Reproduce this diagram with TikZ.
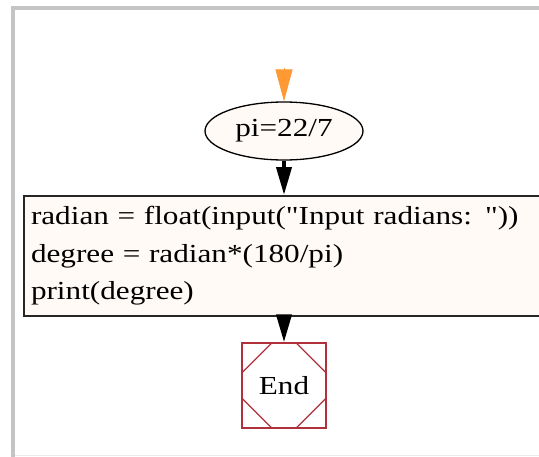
\documentclass[tikz,border=0pt]{standalone}
\usepackage{fontspec}
\newfontfamily\gvfont[FakeStretch=1.2]{Liberation Serif}
\usetikzlibrary{shapes.geometric,arrows.meta,calc}
\definecolor{nodefill}{RGB}{255,250,245}
\definecolor{endred}{RGB}{176,48,60}
\definecolor{gvorange}{RGB}{255,153,51}
\definecolor{framegray}{RGB}{196,196,196}
\tikzset{
  gvtext/.style={font=\gvfont\fontsize{26}{37.5}\selectfont},
  flowarrow/.style={black, line width=4pt, -{Triangle[length=28pt,width=15pt]}},
  startarrow/.style={gvorange, line width=1pt, -{Triangle[length=32pt,width=17pt]}},
  ellnode/.style={ellipse, draw=black, line width=1.3pt, fill=nodefill, minimum width=158pt, minimum height=58pt, inner sep=0pt, gvtext},
  codebox/.style={rectangle, draw=black!85, line width=2pt, fill=nodefill, minimum height=120pt, text width=526pt, inner xsep=7pt, align=left, gvtext},
  endbox/.style={rectangle, draw=endred, line width=1.3pt, fill=white, minimum width=84pt, minimum height=85pt, gvtext},
  endcut/.style={endred, line width=1.2pt}
}
\begin{document}
\begin{tikzpicture}[x=1pt,y=1pt]
\useasboundingbox (0,0) rectangle (539,-456);
\fill[white] (0,0) rectangle (539,-456);
\draw[framegray, line width=4pt] (13,-458) -- (13,-8) -- (545,-8);
\draw[black!8, line width=1pt] (15,-455.5) -- (545,-455.5);

\coordinate (start) at (284,-68);
\node[ellnode] (pi) at (284,-131) {pi=22/7};
\node[codebox, anchor=north west] (code) at (23,-195) {radian = float(input("Input radians: "))\\degree = radian*(180/pi)\\print(degree)};
\node[endbox] (end) at (284,-385.5) {End};

\draw[endcut] ($(end.north west)+(31pt,0)$) -- ($(end.north west)+(0,-31pt)$);
\draw[endcut] ($(end.north east)+(-31pt,0)$) -- ($(end.north east)+(0,-31pt)$);
\draw[endcut] ($(end.south west)+(31pt,0)$) -- ($(end.south west)+(0,31pt)$);
\draw[endcut] ($(end.south east)+(-31pt,0)$) -- ($(end.south east)+(0,31pt)$);

\draw[startarrow] (start) -- (pi.north);
\draw[flowarrow] (pi.south) -- (pi.south |- code.north);
\draw[flowarrow] (end.north |- code.south) -- (end.north);
\end{tikzpicture}
\end{document}
